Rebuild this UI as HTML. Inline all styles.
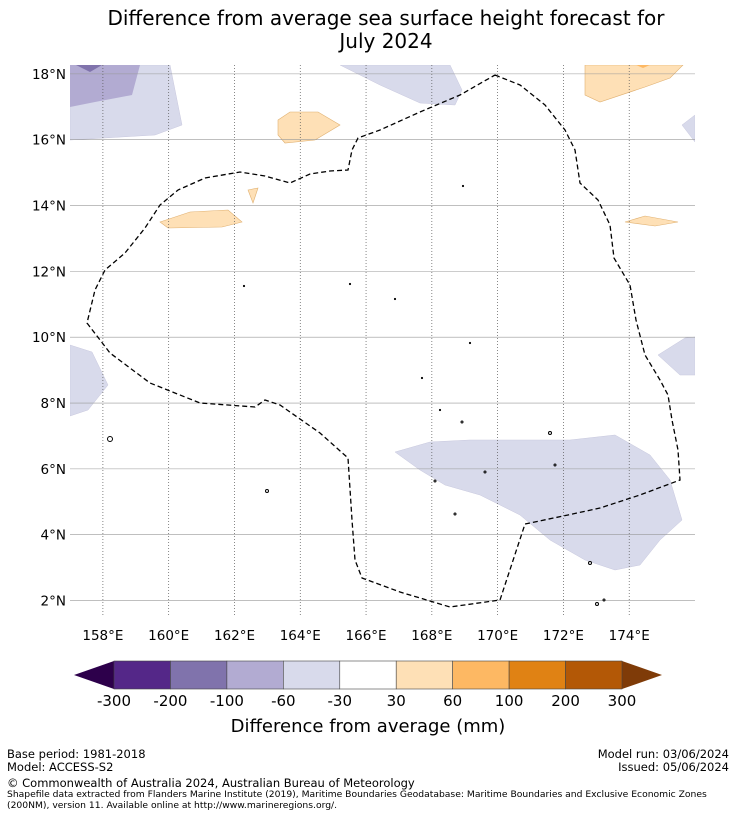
<!DOCTYPE html>
<html><head><meta charset="utf-8"><style>
body{margin:0;background:#fff;font-family:"DejaVu Sans","Liberation Sans",sans-serif;}
.t{position:absolute;}
</style></head><body>
<div style="position:relative;width:736px;height:816px;overflow:hidden">
<div class="t" style="left:0;width:772px;top:7px;text-align:center;font-size:20px;line-height:23px;color:#000">Difference from average sea surface height forecast for<br>July 2024</div>
<svg id="map" class="t" style="left:0;top:0" width="736" height="816"></svg>
<div class="t" style="left:0;width:736px;top:716px;text-align:center;font-size:18px">Difference from average (mm)</div>
<div class="t" style="left:7px;top:748px;font-size:11.5px;line-height:13px">Base period: 1981-2018<br>Model: ACCESS-S2</div>
<div class="t" style="right:7px;top:748px;font-size:11.5px;line-height:13px;text-align:right">Model run: 03/06/2024<br>Issued: 05/06/2024</div>
<div class="t" style="left:7px;top:776px;font-size:11.5px">© Commonwealth of Australia 2024, Australian Bureau of Meteorology</div>
<div class="t" style="left:7px;top:790px;font-size:9.2px;line-height:10.5px;width:725px">Shapefile data extracted from Flanders Marine Institute (2019), Maritime Boundaries Geodatabase: Maritime Boundaries and Exclusive Economic Zones (200NM), version 11. Available online at http://www.marineregions.org/.</div>
</div>
<script>
const lonTicks=[158,160,162,164,166,168,170,172,174];
const latTicks=[2,4,6,8,10,12,14,16,18];
const cbLevels=["-300","-200","-100","-60","-30","30","60","100","200","300"];
const cbColors=["#542788","#8073ac","#b2abd2","#d8daeb","#ffffff","#fee0b6","#fdb863","#e08214","#b35806"];
const lonMin=157.0,lonMax=176.0,latMin=1.5,latMax=18.27;
const X0=70,X1=695,Y0=65,Y1=617;
function xs(lon){return X0+(lon-lonMin)/(lonMax-lonMin)*(X1-X0);}
function ys(lat){return Y1-(lat-latMin)/(latMax-latMin)*(Y1-Y0);}
const NS="http://www.w3.org/2000/svg";
const svg=document.getElementById('map');
function el(t,a,p){const e=document.createElementNS(NS,t);for(const k in a)e.setAttribute(k,a[k]);(p||svg).appendChild(e);return e;}
const P=a=>a.map(p=>p.join(',')).join(' ');
const clip=el('clipPath',{id:'c'});el('rect',{x:X0,y:Y0,width:X1-X0,height:Y1-Y0},clip);
const g=el('g',{'clip-path':'url(#c)'});
const lav=[[[70,65],[170,65],[182,125],[155,135],[70,140]],[[340,65],[450,65],[462,90],[455,105],[420,103],[380,85]],[[682,125],[695,115],[695,142]],[[70,345],[92,352],[108,385],[88,410],[70,416]],[[658,355],[685,338],[695,337],[695,375],[680,375]],[[395,452],[430,442],[470,440],[520,440],[570,440],[615,435],[650,455],[670,480],[682,520],[660,540],[640,565],[615,570],[585,560],[550,540],[520,515],[480,495],[445,485],[420,470]]];
lav.forEach(s=>{const e=el('polygon',{points:P(s),fill:'#d8daeb',stroke:'#c8c8de','stroke-width':0.5},g);});
el('polygon',{points:P([[70,65],[140,65],[132,95],[95,102],[70,107]]),fill:'#b2abd2'},g);
el('polygon',{points:P([[76,65],[102,65],[90,72]]),fill:'#8073ac'},g);
const org=[[[585,65],[683,65],[670,78],[645,87],[600,102],[585,95]],[[278,120],[290,112],[318,112],[340,125],[315,140],[285,143],[278,135]],[[160,222],[190,212],[228,210],[242,222],[222,227],[168,228]],[[248,190],[258,188],[253,203]],[[625,222],[645,216],[678,222],[655,226]]];
org.forEach(s=>{const e=el('polygon',{points:P(s),fill:'#fee0b6',stroke:'#e0b070','stroke-width':0.6},g);});
el('polygon',{points:P([[636,65],[650,65],[643,68]]),fill:'#fdb863'},g);
lonTicks.forEach(l=>{const x=xs(l);el('line',{x1:x,x2:x,y1:Y0,y2:Y1,stroke:'#555','stroke-width':0.7,'stroke-dasharray':'1,2'});
const t=el('text',{x:x,y:Y1+23,'text-anchor':'middle','font-size':13.5});t.textContent=l+'°E';});
latTicks.forEach(l=>{const y=ys(l);el('line',{x1:X0,x2:X1,y1:y,y2:y,stroke:'#999','stroke-width':0.6});
const t=el('text',{x:X0-4,y:y+5,'text-anchor':'end','font-size':13.5});t.textContent=l+'°N';});
const eez=[[495,75],[520,85],[545,105],[565,130],[575,150],[580,183],[598,200],[610,225],[614,258],[630,285],[636,320],[645,355],[660,380],[668,395],[672,420],[678,450],[680,480],[640,495],[600,508],[568,515],[525,524],[500,600],[450,607],[400,592],[362,578],[355,560],[352,520],[348,458],[320,433],[280,405],[265,400],[255,407],[200,403],[150,383],[110,353],[87,323],[95,290],[105,270],[125,253],[145,228],[160,205],[178,190],[205,178],[240,172],[265,176],[290,183],[310,174],[330,171],[348,170],[352,150],[358,138],[380,130],[420,112],[460,95],[495,75]];
const e=el('polyline',{points:P(eez),fill:'none',stroke:'#000','stroke-width':1.3,'stroke-dasharray':'5,3'});

[[110,439,2.5],[267,491,1.5],[435,481,1],[455,514,1],[485,472,1],[550,433,1.5],[555,465,1],[590,563,1.5],[597,604,1.5],[604,600,1],[244,286,0.6],[350,284,0.6],[395,299,0.6],[422,378,0.6],[440,410,0.6],[462,422,1],[470,343,0.6],[463,186,0.6]].forEach(d=>el('circle',{cx:d[0],cy:d[1],r:d[2],fill:'none',stroke:'#000','stroke-width':1}));
const cx0=114,cx1=622,cy=661,ch=28,bw=(cx1-cx0)/cbColors.length;
el('polygon',{points:P([[cx0,cy],[74,cy+ch/2],[cx0,cy+ch]]),fill:'#2d004b'});
el('polygon',{points:P([[cx1,cy],[662,cy+ch/2],[cx1,cy+ch]]),fill:'#7f3b08'});
cbColors.forEach((c,i)=>{const r=el('rect',{x:cx0+i*bw,y:cy,width:bw,height:ch,fill:c,stroke:'#444','stroke-width':0.6});});
cbLevels.forEach((v,i)=>{const t=el('text',{x:cx0+i*bw,y:cy+ch+17,'text-anchor':'middle','font-size':15});t.textContent=v;});
</script>
</body></html>
